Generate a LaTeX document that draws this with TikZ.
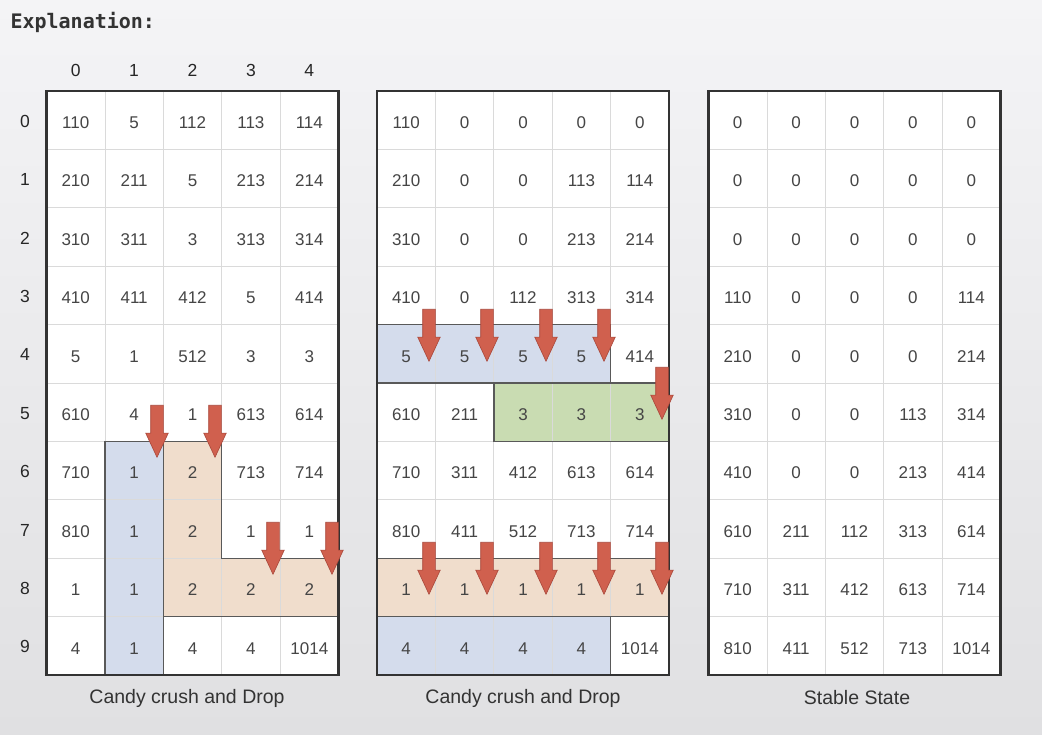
\documentclass[tikz,border=0pt]{standalone}
\usepackage{fontspec}
\setmainfont{Liberation Sans}
\setmonofont{DejaVu Sans Mono}
\usetikzlibrary{positioning}
\usetikzlibrary{shapes.arrows}
\usetikzlibrary{backgrounds}

\definecolor{bgtop}{HTML}{F4F4F6}
\definecolor{bgbot}{HTML}{E0E0E2}
\definecolor{gridline}{HTML}{DADADA}
\definecolor{numtext}{HTML}{454545}
\definecolor{crushblue}{HTML}{D4DCEC}
\definecolor{crushpeach}{HTML}{F0DDCC}
\definecolor{crushgreen}{HTML}{C9DCB2}
\definecolor{dropred}{HTML}{D0604E}
\definecolor{dropredline}{HTML}{A8473A}

\newcommand{\cw}{58.4}

\tikzset{
    cell/.style={draw=gridline, line width=0.8pt, minimum size=\cw pt,
        inner sep=0pt, outer sep=0pt, text=numtext,
        text height=16.5pt, text depth=0pt,
        font=\fontsize{17}{19}\selectfont},
    axislabel/.style={text=black!85, font=\fontsize{17.5}{20}\selectfont},
    caption/.style={text=black!80, font=\fontsize{19.5}{22}\selectfont},
    region/.style={draw=black!65, line width=1.4pt},
    gridframe/.style={draw=black!80, line width=2.4pt},
    dropbox/.style={single arrow, shape border rotate=270, draw=dropredline,
        fill=dropred, line width=0.6pt, minimum height=52pt,
        single arrow head extend=5pt, single arrow tip angle=50, inner sep=6pt}
}

\begin{document}
\begin{tikzpicture}[x=1pt, y=-1pt]
    \useasboundingbox (0,0) rectangle (1042,735);

    % heading
    \node[anchor=west, font=\ttfamily\bfseries\fontsize{20}{23}\selectfont, text=black!80]
        (explain) at (7,22) {Explanation:};

    % column and row indices
    \foreach \c in {0,...,4}
        \node[axislabel] (col\c) at ({46.5+(\c+0.5)*\cw}, 70) {\c};
    \foreach \r in {0,...,9}
        \node[axislabel] (row\r) at (25, {92+(\r+0.5)*\cw}) {\r};

    % first board
    \foreach \r/\vals in {0/{110,5,112,113,114}, 1/{210,211,5,213,214},
            2/{310,311,3,313,314}, 3/{410,411,412,5,414}, 4/{5,1,512,3,3},
            5/{610,4,1,613,614}, 6/{710,1,2,713,714}, 7/{810,1,2,1,1},
            8/{1,1,2,2,2}, 9/{4,1,4,4,1014}}
        \foreach \v [count=\c from 0] in \vals
            \node[cell] (a-\r-\c) at ({46.5+(\c+0.5)*\cw}, {91+(\r+0.5)*\cw}) {\v};

    % second board
    \foreach \r/\vals in {0/{110,0,0,0,0}, 1/{210,0,0,113,114},
            2/{310,0,0,213,214}, 3/{410,0,112,313,314}, 4/{5,5,5,5,414},
            5/{610,211,3,3,3}, 6/{710,311,412,613,614}, 7/{810,411,512,713,714},
            8/{1,1,1,1,1}, 9/{4,4,4,4,1014}}
        \foreach \v [count=\c from 0] in \vals
            \node[cell] (b-\r-\c) at ({377+(\c+0.5)*\cw}, {91+(\r+0.5)*\cw}) {\v};

    % third board
    \foreach \r/\vals in {0/{0,0,0,0,0}, 1/{0,0,0,0,0}, 2/{0,0,0,0,0},
            3/{110,0,0,0,114}, 4/{210,0,0,0,214}, 5/{310,0,0,113,314},
            6/{410,0,0,213,414}, 7/{610,211,112,313,614}, 8/{710,311,412,613,714},
            9/{810,411,512,713,1014}}
        \foreach \v [count=\c from 0] in \vals
            \node[cell] (s-\r-\c) at ({708.5+(\c+0.5)*\cw}, {91+(\r+0.5)*\cw}) {\v};

    \begin{pgfonlayer}{background}
        \shade[top color=bgtop, bottom color=bgbot] (0,0) rectangle (1042,735);
        \fill[white] (a-0-0.north west) rectangle (a-9-4.south east);
        \fill[white] (b-0-0.north west) rectangle (b-9-4.south east);
        \fill[white] (s-0-0.north west) rectangle (s-9-4.south east);
        % crushed groups
        \fill[crushblue] (a-6-1.north west) rectangle (a-9-1.south east);
        \fill[crushpeach] (a-6-2.north west) -- (a-6-2.north east)
            -- (a-8-3.north west) -- (a-8-4.north east)
            -- (a-8-4.south east) -- (a-8-2.south west) -- cycle;
        \fill[crushblue] (b-4-0.north west) rectangle (b-4-3.south east);
        \fill[crushgreen] (b-5-2.north west) rectangle (b-5-4.south east);
        \fill[crushpeach] (b-8-0.north west) rectangle (b-8-4.south east);
        \fill[crushblue] (b-9-0.north west) rectangle (b-9-3.south east);
    \end{pgfonlayer}

    % group outlines
    \draw[region] (a-6-1.north west) rectangle (a-9-1.south east);
    \draw[region] (a-6-2.north west) -- (a-6-2.north east)
        -- (a-8-3.north west) -- (a-8-4.north east)
        -- (a-8-4.south east) -- (a-8-2.south west) -- cycle;
    \draw[region] (b-4-0.north west) rectangle (b-4-3.south east);
    \draw[region] (b-5-2.north west) rectangle (b-5-4.south east);
    \draw[region] (b-8-0.north west) rectangle (b-8-4.south east);
    \draw[region] (b-9-0.north west) rectangle (b-9-3.south east);

    % board frames
    \draw[gridframe] (a-0-0.north west) rectangle (a-9-4.south east);
    \draw[gridframe] (b-0-0.north west) rectangle (b-9-4.south east);
    \draw[gridframe] (s-0-0.north west) rectangle (s-9-4.south east);

    % drop arrows
    \node[dropbox, anchor=tip] (d1) at (157,458) {};
    \node[dropbox, anchor=tip] (d2) at (215,458) {};
    \node[dropbox, anchor=tip] (d3) at (273,575) {};
    \node[dropbox, anchor=tip] (d4) at (332,575) {};
    \foreach \x [count=\i] in {429,487,546,604}
        \node[dropbox, anchor=tip] (e\i) at (\x,362) {};
    \node[dropbox, anchor=tip] (e5) at (662,420) {};
    \foreach \x [count=\i] in {429,487,546,604,662}
        \node[dropbox, anchor=tip] (f\i) at (\x,595) {};

    % captions
    \node[caption] (cap1) at (187,698) {Candy crush and Drop};
    \node[caption] (cap2) at (523,698) {Candy crush and Drop};
    \node[caption] (cap3) at (857,698) {Stable State};
\end{tikzpicture}
\end{document}
